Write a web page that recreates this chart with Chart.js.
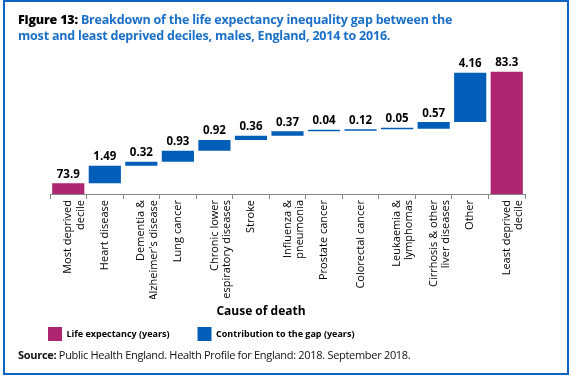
<!DOCTYPE html>
<html>
<head>
<meta charset="utf-8">
<script src="https://cdn.jsdelivr.net/npm/chart.js@4/dist/chart.umd.min.js"></script>
<style>
  body { margin: 0; background: #fff; }
  #wrap { position: relative; width: 573px; height: 378px; overflow: hidden; }
  #frame { position: absolute; left: 3px; top: 0; width: 562px; height: 371px; border: 2px solid #0b63c4; }
  #title { position: absolute; left: 18px; top: 12px; font: bold 12.5px "Open Sans", sans-serif; color: #1a6fc8; line-height: 16px; letter-spacing: -0.2px; }
  #title b { color: #000; }
  #source { position: absolute; left: 18px; top: 347px; font: 11px "Open Sans", sans-serif; color: #111; letter-spacing: -0.3px; }
  #source b { font-weight: bold; }
  canvas { position: absolute; left: 0; top: 0; }
</style>
</head>
<body>
<div id="wrap">
  <div id="frame"></div>
  <canvas id="myChart" width="573" height="378"></canvas>
  <div id="title"><b>Figure 13:</b> Breakdown of the life expectancy inequality gap between the<br>most and least deprived deciles, males, England, 2014 to 2016.</div>
  <div id="source"><b>Source:</b> Public Health England. Health Profile for England: 2018. September 2018.</div>
</div>
<script>
const categories = [
    ['Most deprived', 'decile'], 'Heart disease', ['Dementia &', "Alzheimer's disease"],
    'Lung cancer', ['Chronic lower', 'respiratory diseases'], 'Stroke', ['Influenza &', 'pneumonia'],
    'Prostate cancer', 'Colorectal cancer', ['Leukaemia &', 'lymphomas'],
    ['Cirrhosis & other', 'liver diseases'], 'Other', ['Least deprived', 'decile']
];
const mostDeprived = 73.9;
const leastDeprived = 83.3;
const contributions = [1.49, 0.32, 0.93, 0.92, 0.36, 0.37, 0.04, 0.12, 0.05, 0.57, 4.16];

const pink = '#ae2570';
const blue = '#005eb8';

// life expectancy bars at both ends
let lifeData = categories.map(() => null);
lifeData[0] = mostDeprived;
lifeData[categories.length - 1] = leastDeprived;

// floating bars, each starting where the previous one ended
let gapData = [null];
let running = mostDeprived;
contributions.forEach(c => {
    gapData.push([running, running + c]);
    running += c;
});
gapData.push(null);

const valueLabels = {
    id: 'valueLabels',
    afterDatasetsDraw(chart) {
        let ctx = chart.ctx;
        ctx.save();
        ctx.font = 'bold 11.5px "Open Sans", sans-serif';
        ctx.fillStyle = '#000';
        ctx.textAlign = 'center';
        ctx.textBaseline = 'bottom';
        chart.data.datasets.forEach((ds, i) => {
            chart.getDatasetMeta(i).data.forEach((bar, j) => {
                let v = ds.data[j];
                if (v === null) return;
                let text = Array.isArray(v) ? (v[1] - v[0]).toFixed(2) : v.toFixed(1);
                let top = Math.min(bar.y, bar.base);
                ctx.fillText(text, bar.x, top - 3);
            });
        });
        // axis caption
        ctx.font = 'bold 12px "Open Sans", sans-serif';
        ctx.textBaseline = 'middle';
        ctx.fillText('Cause of death', 261, 312);
        ctx.restore();
    }
};

function chart() {
    let ctx = document.getElementById('myChart').getContext('2d');
    new Chart(ctx, {
        type: 'bar',
        data: {
            labels: categories,
            datasets: [{
                label: 'Life expectancy (years)',
                data: lifeData,
                backgroundColor: pink,
                grouped: false
            }, {
                label: 'Contribution to the gap (years)',
                data: gapData,
                backgroundColor: blue,
                grouped: false,
                minBarLength: 1.5
            }]
        },
        options: {
            responsive: false,
            animation: false,
            categoryPercentage: 1,
            barPercentage: 0.88,
            layout: { padding: { left: 20, right: 48, top: 60, bottom: 27 } },
            plugins: {
                tooltip: { enabled: false },
                legend: {
                    position: 'bottom',
                    align: 'start',
                    labels: {
                        boxWidth: 14,
                        boxHeight: 14,
                        padding: 28,
                        color: '#000',
                        font: { family: '"Open Sans", sans-serif', size: 9, weight: 'bold' }
                    }
                }
            },
            scales: {
                x: {
                    grid: { drawOnChartArea: false, tickLength: 5, color: '#888' },
                    border: { color: '#888' },
                    ticks: {
                        autoSkip: false,
                        maxRotation: 90,
                        minRotation: 90,
                        padding: 1,
                        color: '#000',
                        font: { family: '"Open Sans", sans-serif', size: 11, lineHeight: 1.1 }
                    },
                    afterFit(scale) { scale.height = 105; }
                },
                y: {
                    min: 73,
                    max: 84.3,
                    grid: { display: false },
                    border: { display: false },
                    ticks: { display: false },
                    afterFit(scale) { scale.width = 30; }
                }
            }
        },
        plugins: [valueLabels]
    });
}

chart();
</script>
</body>
</html>
